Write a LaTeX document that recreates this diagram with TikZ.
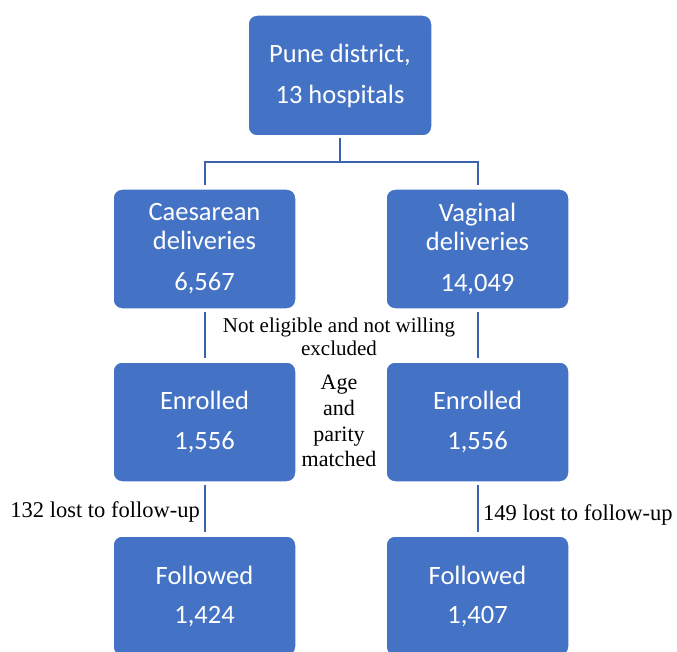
\documentclass[tikz,border=0pt]{standalone}
\usepackage{fontspec}
\setmainfont{Liberation Serif}
\newfontfamily\boxfont{Carlito}
\definecolor{boxblue}{HTML}{4472C4}
\definecolor{lineblue}{HTML}{3A63AC}
\begin{document}
\begin{tikzpicture}[x=1pt,y=-1pt,
 boxnode/.style={draw=white, line width=1.5pt, fill=boxblue, rounded corners=9pt,
   minimum width=183pt, minimum height=120pt, text=white,
   font=\boxfont\fontsize{26.5}{29}\selectfont, align=center, inner sep=0pt},
 conn/.style={draw=lineblue, line width=2pt},
 lbl/.style={font=\fontsize{21}{23}\selectfont, align=center, inner sep=0pt}]
\useasboundingbox (0,0) rectangle (677,652);
\node[boxnode, minimum width=184pt, minimum height=121pt] (pune) at (340,75.5) {Pune district,\\[12pt]13 hospitals};
\node[boxnode] (caes) at (204.5,249) {Caesarean\\deliveries\\[12pt]6,567};
\node[boxnode] (vag) at (477.5,249) {Vaginal\\deliveries\\[12pt]14,049};
\node[boxnode] (enl) at (204.5,422) {Enrolled\\[11pt]1,556};
\node[boxnode] (enr) at (477.5,422) {Enrolled\\[11pt]1,556};
\node[boxnode] (fol) at (204.5,596) {Followed\\[10pt]1,424};
\node[boxnode] (for) at (477.5,596) {Followed\\[10pt]1,407};
\coordinate (j) at (340,162);
\draw[conn, shorten <=1pt] (pune.south) -- (j);
\draw[conn, shorten <=3pt, shorten >=3pt] (caes.north) |- (j) -| (vag.north);
\draw[conn, shorten <=2pt, shorten >=3pt] (caes) -- (enl);
\draw[conn, shorten <=2pt, shorten >=3pt] (vag) -- (enr);
\draw[conn, shorten <=2pt, shorten >=3pt] (enl) -- (fol);
\draw[conn, shorten <=2pt, shorten >=3pt] (enr) -- (for);
\node[lbl] (excl) at (339,337) {Not eligible and not willing\\excluded};
\node[lbl, font=\fontsize{22}{25.7}\selectfont] (match) at (339,421) {Age\\and\\parity\\matched};
\node[lbl, anchor=east, font=\fontsize{22.5}{25}\selectfont] (lostl) at (200,512) {132 lost to follow-up};
\node[lbl, anchor=west, font=\fontsize{22.5}{25}\selectfont] (lostr) at (483,515) {149 lost to follow-up};
\end{tikzpicture}
\end{document}
